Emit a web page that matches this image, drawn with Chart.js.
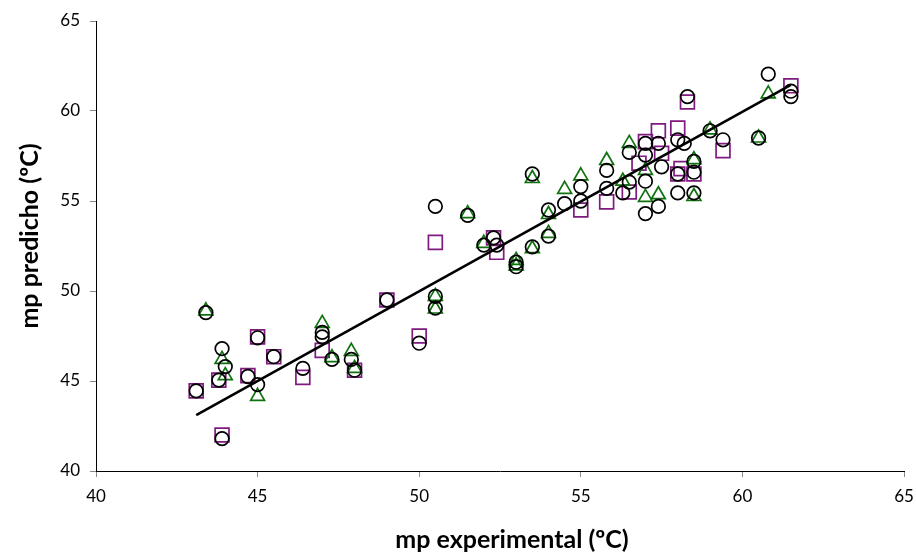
<!DOCTYPE html>
<html>
<head>
<meta charset="utf-8">
<script src="https://cdn.jsdelivr.net/npm/chart.js@4"></script>
<style>
  html, body { margin: 0; padding: 0; background: #fff; }
  #wrap { width: 916px; height: 554px; position: relative; }
</style>
</head>
<body>
<div id="wrap"><canvas id="c" width="916" height="554"></canvas></div>
<script>
// Series 1: black circles
const circleX = [43.4,43.1,43.9,44.0,43.8,43.9,45.0,44.7,45.0,45.5,46.4,47.0,47.0,47.3,47.9,48.0,49.0,50.0,50.5,50.5,50.5,51.5,52.0,52.3,52.4,53.0,53.0,53.5,53.5,54.0,54.0,54.5,55.0,55.0,55.8,55.8,56.3,56.5,56.5,57.0,57.0,57.0,57.0,57.4,57.5,57.4,58.0,58.2,58.0,58.0,58.3,58.5,58.5,58.5,59.0,59.4,60.5,60.8,61.5,61.5];
const circleY = [48.8,44.45,46.8,45.8,45.05,41.8,47.4,45.25,44.8,46.35,45.7,47.7,47.45,46.2,46.2,45.6,49.5,47.1,54.7,49.7,49.05,54.2,52.55,52.95,52.55,51.6,51.35,56.5,52.45,54.5,53.05,54.85,55.8,55.0,56.7,55.7,55.45,56.05,57.7,58.2,57.55,56.1,54.3,58.2,56.9,54.7,58.4,58.2,56.5,55.45,60.8,57.2,56.6,55.45,58.9,58.4,58.5,62.05,61.1,60.8];

// Series 2: purple squares
const squareX = [43.1,43.8,43.9,45.0,44.7,45.5,46.4,47.0,48.0,49.0,50.0,50.5,52.3,52.4,55.0,55.8,56.5,56.8,57.0,57.4,57.5,58.0,58.0,58.1,58.3,58.5,59.4,61.5];
const squareY = [44.45,45.05,42.0,47.45,45.3,46.35,45.2,46.7,45.6,49.5,47.5,52.7,52.95,52.15,54.5,54.95,55.5,57.1,58.3,58.9,57.65,59.05,56.5,56.8,60.5,56.5,57.8,61.4];

// Series 3: green triangles
const triX = [43.4,43.9,44.0,45.0,47.0,47.3,47.9,48.0,50.5,50.5,51.5,52.0,53.0,53.0,53.5,53.5,54.0,54.0,54.5,55.0,55.8,56.3,56.5,57.0,57.0,57.4,58.5,58.5,59.0,60.5,60.8];
const triY = [48.9,46.2,45.3,44.15,48.2,46.3,46.65,45.7,49.7,49.0,54.3,52.65,51.7,51.4,56.25,52.35,54.25,53.2,55.65,56.4,57.25,56.1,58.2,56.7,55.2,55.35,57.3,55.25,58.95,58.5,60.95];

// Trend line
const lineX = [43.1, 61.5];
const lineY = [43.1, 61.45];

// Axis ticks and titles
const tickValues = [40, 45, 50, 55, 60, 65];
const xTitle = 'mp experimental (ºC)';
const yTitle = 'mp predicho (ºC)';

const toPts = (xs, ys) => xs.map((x, i) => ({ x: x, y: ys[i] }));

const PURPLE = '#7f1a7f';
const GREEN = '#0f720f';

const axisTitles = {
  id: 'axisTitles',
  afterDraw(chart) {
    const ctx = chart.ctx;
    const a = chart.chartArea;
    ctx.save();
    ctx.fillStyle = '#000';
    ctx.font = 'bold 25px Lato';
    ctx.textAlign = 'center';
    ctx.textBaseline = 'middle';
    ctx.fillText(xTitle, (a.left + a.right) / 2 + 12, 540);
    ctx.translate(30, (a.top + a.bottom) / 2 - 10);
    ctx.rotate(-Math.PI / 2);
    ctx.fillText(yTitle, 0, 0);
    ctx.restore();
  }
};

new Chart(document.getElementById('c'), {
  type: 'scatter',
  data: {
    datasets: [
      {
        type: 'line',
        data: toPts(lineX, lineY),
        borderColor: '#000',
        borderWidth: 2.6,
        pointRadius: 0,
        fill: false,
        order: 0
      },
      {
        data: toPts(circleX, circleY),
        pointStyle: 'circle',
        pointRadius: 6.8,
        pointBorderWidth: 1.7,
        pointBorderColor: '#000',
        pointBackgroundColor: 'rgba(0,0,0,0)',
        order: 1
      },
      {
        data: toPts(triX, triY),
        pointStyle: 'triangle',
        pointRadius: 8,
        pointBorderWidth: 1.7,
        pointBorderColor: GREEN,
        pointBackgroundColor: 'rgba(0,0,0,0)',
        order: 2
      },
      {
        data: toPts(squareX, squareY),
        pointStyle: 'rect',
        pointRadius: 9.8,
        pointBorderWidth: 1.7,
        pointBorderColor: PURPLE,
        pointBackgroundColor: 'rgba(0,0,0,0)',
        order: 3
      }
    ]
  },
  options: {
    responsive: false,
    animation: false,
    devicePixelRatio: 1,
    layout: { padding: { top: 21, right: 12, left: 0, bottom: 0 } },
    plugins: { legend: { display: false }, tooltip: { enabled: false } },
    scales: {
      x: {
        type: 'linear',
        min: 40, max: 65,
        afterBuildTicks: (s) => { s.ticks = tickValues.map(v => ({ value: v })); },
        afterFit: (s) => { s.height = 83; s.paddingLeft = 0; s.paddingRight = 0; },
        grid: { drawOnChartArea: false, drawTicks: true, tickLength: 6, color: '#888' },
        border: { display: true, color: '#000', width: 1 },
        ticks: { color: '#000', font: { family: 'Lato', size: 17 }, padding: 9, maxRotation: 0 },
        title: { display: false }
      },
      y: {
        type: 'linear',
        min: 40, max: 65,
        afterBuildTicks: (s) => { s.ticks = tickValues.map(v => ({ value: v })); },
        afterFit: (s) => { s.width = 96; s.paddingTop = 0; s.paddingBottom = 0; },
        grid: { drawOnChartArea: false, drawTicks: true, tickLength: 6, color: '#888' },
        border: { display: true, color: '#000', width: 1 },
        ticks: { color: '#000', font: { family: 'Lato', size: 17 }, padding: 10 },
        title: { display: false }
      }
    }
  },
  plugins: [axisTitles]
});
</script>
</body>
</html>
